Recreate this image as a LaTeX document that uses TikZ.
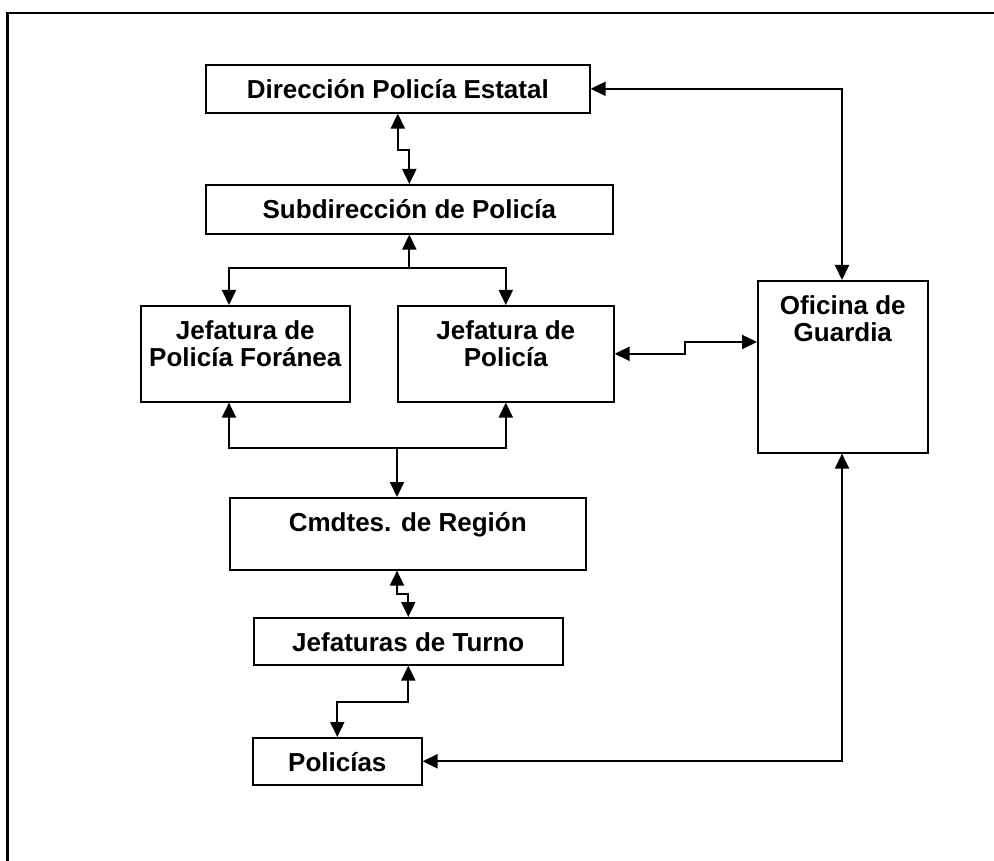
\documentclass[tikz,border=0pt]{standalone}
\usepackage{fontspec}
\setmainfont{Liberation Sans}
\usetikzlibrary{arrows.meta}

% two centred lines, baseline on the first line
\newcommand\twolines[2]{\begin{tabular}[t]{@{}c@{}}#1\\#2\end{tabular}}

\begin{document}
\begin{tikzpicture}[x=1pt,y=-1pt,
  orgbox/.style={draw, line width=1.6pt, inner sep=0pt, anchor=north west,
    text height=33.5pt, font=\fontsize{26}{27}\selectfont\bfseries},
  link/.style={line width=2pt, {Triangle[length=15pt,width=14pt]}-{Triangle[length=15pt,width=14pt]}},
  linkend/.style={line width=2pt, -{Triangle[length=15pt,width=14pt]}},
  frameline/.style={line width=2.5pt}]
\useasboundingbox (0,0) rectangle (994,861);

% outer frame (top and left edges)
\draw[frameline] (7.5,861) -- (7.5,13) -- (994,13);

% boxes
\node[orgbox, minimum width=384pt, text depth=14.5pt] (dir) at (205,64) {Dirección Policía Estatal};
\node[orgbox, minimum width=407pt, text depth=15.5pt] (sub) at (205,184) {Subdirección de Policía};
\node[orgbox, minimum width=209pt, text depth=62.5pt] (jfl) at (140,305) {\twolines{Jefatura de}{Policía Foránea}};
\node[orgbox, minimum width=216pt, text depth=62.5pt] (jfr) at (397,305) {\twolines{Jefatura de}{Policía}};
\node[orgbox, minimum width=356pt, text depth=38.5pt] (cmd) at (229,497) {Cmdtes. de Región};
\node[orgbox, minimum width=309pt, text depth=13.5pt] (tur) at (253,617) {Jefaturas de Turno};
\node[orgbox, minimum width=169pt, text depth=13.5pt] (pol) at (252,737) {Policías};
\node[orgbox, minimum width=170pt, text depth=138.5pt] (ofi) at (757,280) {\twolines{Oficina de}{Guardia}};

% helper points for the connectors
\coordinate (xa) at (229,0);
\coordinate (xo) at (842,0);
\coordinate (k1) at (sub.south |- 0,268);
\coordinate (k2) at (397,448);
\coordinate (j7) at (685,342);

% connectors
\draw[link] (dir.south) -- ++(0,36) -| (sub.north);
\draw[linkend] (k1) -- (sub.south);
\draw[link] (jfl.north -| xa) |- (k1) -| (jfr.north);
\draw[link] (jfl.south -| xa) |- (k2) -| (jfr.south);
\draw[linkend] (k2) -- (cmd.north -| k2);
\draw[link] (cmd.south -| k2) -- ++(0,23) -| (tur.north);
\draw[link] (tur.south) -- ++(0,36) -| (pol.north);
\draw[link] (dir.east) -| (ofi.north -| xo);
\draw[link] (jfr.east) -| (j7) -- (ofi.west |- j7);
\draw[link] (ofi.south -| xo) |- (pol.east);
\end{tikzpicture}
\end{document}
